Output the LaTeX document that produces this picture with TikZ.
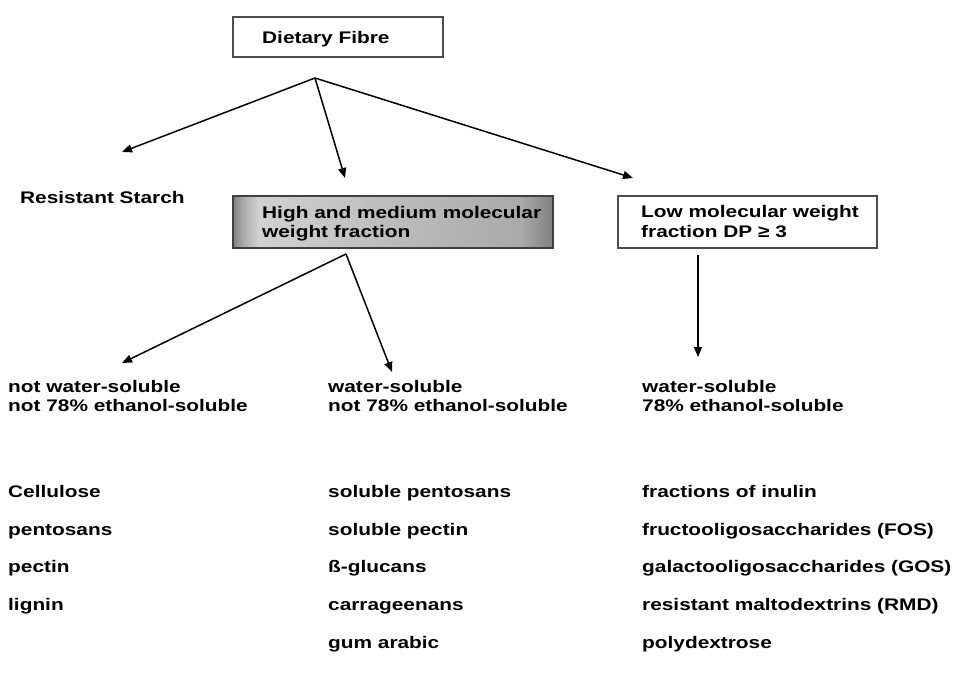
\documentclass[tikz,border=0pt]{standalone}
\usepackage{fontspec}
\setmainfont{Liberation Sans}[FakeStretch=1.24]
\usetikzlibrary{arrows.meta}
\pgfdeclarehorizontalshading{hbar}{100bp}{color(0bp)=(gray!85!black); color(25bp)=(gray!85!black); color(26.5bp)=(gray!55); color(29bp)=(white); color(50bp)=(gray!30); color(70bp)=(gray!55); color(75bp)=(gray!85!black); color(100bp)=(gray!85!black)}
\begin{document}
\begin{tikzpicture}[x=1pt,y=-1pt,
  txt/.style={anchor=base west, inner sep=0pt, font=\fontsize{16.8}{19}\selectfont\bfseries, text=black},
  boxw/.style={draw=black!70, line width=1.4pt, inner sep=0pt},
  arr/.style={line width=1.5pt, -{Triangle[length=10pt,width=8pt]}}]
\useasboundingbox (0,0) rectangle (960,691);
% boxes
\node[boxw, minimum width=210pt, minimum height=40pt] (df) at (338,37) {};
\shade[shading=hbar] (233,196) rectangle (553,248);
\shade[top color=gray!80, middle color=white, bottom color=gray!80, opacity=0.45] (233,196) rectangle (553,248);
\node[draw=black!75, line width=1.8pt, minimum width=320pt, minimum height=52pt, inner sep=0pt] (hm) at (393,222) {};
\node[boxw, minimum width=259pt, minimum height=52pt] (lm) at (747.5,222) {};
% texts
\node[txt] (t0) at (262,43) {Dietary Fibre};
\node[txt] (rs) at (20,203) {Resistant Starch};
\node[txt] (h1) at (262,218) {High and medium molecular};
\node[txt] (h2) at (262,237) {weight fraction};
\node[txt] (l1) at (641,217) {Low molecular weight};
\node[txt] (l2) at (641,237) {fraction DP ≥ 3};
\node[txt] (a1) at (8,392) {not water-soluble};
\node[txt] (a2) at (8,411) {not 78\%  ethanol-soluble};
\node[txt] (b1) at (328,392) {water-soluble};
\node[txt] (b2) at (328,411) {not 78\%  ethanol-soluble};
\node[txt] (c1) at (642,392) {water-soluble};
\node[txt] (c2) at (642,411) {78\%  ethanol-soluble};
% lists
\node[txt] (p1) at (8,497) {Cellulose};
\node[txt] (p2) at (8,535) {pentosans};
\node[txt] (p3) at (8,572) {pectin};
\node[txt] (p4) at (8,610) {lignin};
\node[txt] (q1) at (328,497) {soluble pentosans};
\node[txt] (q2) at (328,535) {soluble pectin};
\node[txt] (q3) at (328,572) {ß-glucans};
\node[txt] (q4) at (328,610) {carrageenans};
\node[txt] (q5) at (328,648) {gum arabic};
\node[txt] (r1) at (642,497) {fractions of inulin};
\node[txt] (r2) at (642,535) {fructooligosaccharides (FOS)};
\node[txt] (r3) at (642,572) {galactooligosaccharides (GOS)};
\node[txt] (r4) at (642,610) {resistant maltodextrins (RMD)};
\node[txt] (r5) at (642,648) {polydextrose};
% connector points
\coordinate (top) at (315,78);
\coordinate (e1) at (122,152);
\coordinate (e2) at (345,178);
\coordinate (e3) at (633,178);
\coordinate (mid) at (346,254);
\coordinate (f1) at (122,363);
\coordinate (f2) at (392,372);
\coordinate (g0) at (698,255);
\coordinate (g1) at (698,357);
\draw[arr] (top) -- (e1);
\draw[arr] (top) -- (e2);
\draw[arr] (top) -- (e3);
\draw[arr] (mid) -- (f1);
\draw[arr] (mid) -- (f2);
\draw[arr, line width=1.2pt] (g0) -- (g1);
\end{tikzpicture}
\end{document}
